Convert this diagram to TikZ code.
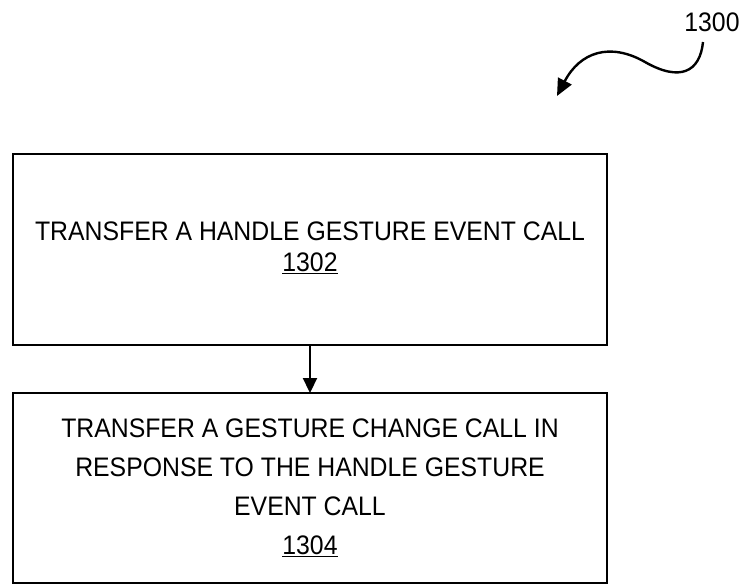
\documentclass[tikz,border=0pt]{standalone}
\usepackage{fontspec}
\setmainfont{Liberation Sans}
\usetikzlibrary{arrows.meta}
\begin{document}
\begin{tikzpicture}[x=1pt,y=-1pt,
  stepbox/.style={draw=black,line width=2.4pt},
  txt/.style={font=\fontsize{24.8}{39}\selectfont,align=center,inner sep=0pt,anchor=center},
  conn/.style={line width=2.2pt,-{Triangle[length=15pt,width=14pt]}}]
\useasboundingbox (0,0) rectangle (742,584);
\draw[stepbox] (13,154) rectangle (607,345);
\draw[stepbox] (13,393) rectangle (607,583);
\node[txt] (t1) at (310,231) {\scalebox{1}[1.08]{TRANSFER A HANDLE GESTURE EVENT CALL}};
\node[txt] (n1) at (310,263) {\scalebox{1}[1.08]{\underline{1302}}};
\node[txt] (t2) at (310,467) {\scalebox{1}[1.08]{TRANSFER A GESTURE CHANGE CALL IN}\\\scalebox{1}[1.08]{RESPONSE TO THE HANDLE GESTURE}\\\scalebox{1}[1.08]{EVENT CALL}};
\node[txt] (n2) at (310,546) {\scalebox{1}[1.08]{\underline{1304}}};
\coordinate (b1) at (310,345);
\coordinate (b2) at (310,393);
\draw[conn] (b1) -- (b2);
\node[txt,font=\fontsize{24.8}{28}\selectfont] (lab) at (712,22) {\scalebox{1}[1.08]{1300}};
\coordinate (cs) at (703,42);
\coordinate (cm) at (645,62);
\coordinate (ce) at (557,96);
\draw[line width=2.4pt,-{Triangle[length=17pt,width=15pt]}] (cs) .. controls (700,72) and (680,82) .. (cm) .. controls (610,42) and (580,52) .. (ce);
\end{tikzpicture}
\end{document}
